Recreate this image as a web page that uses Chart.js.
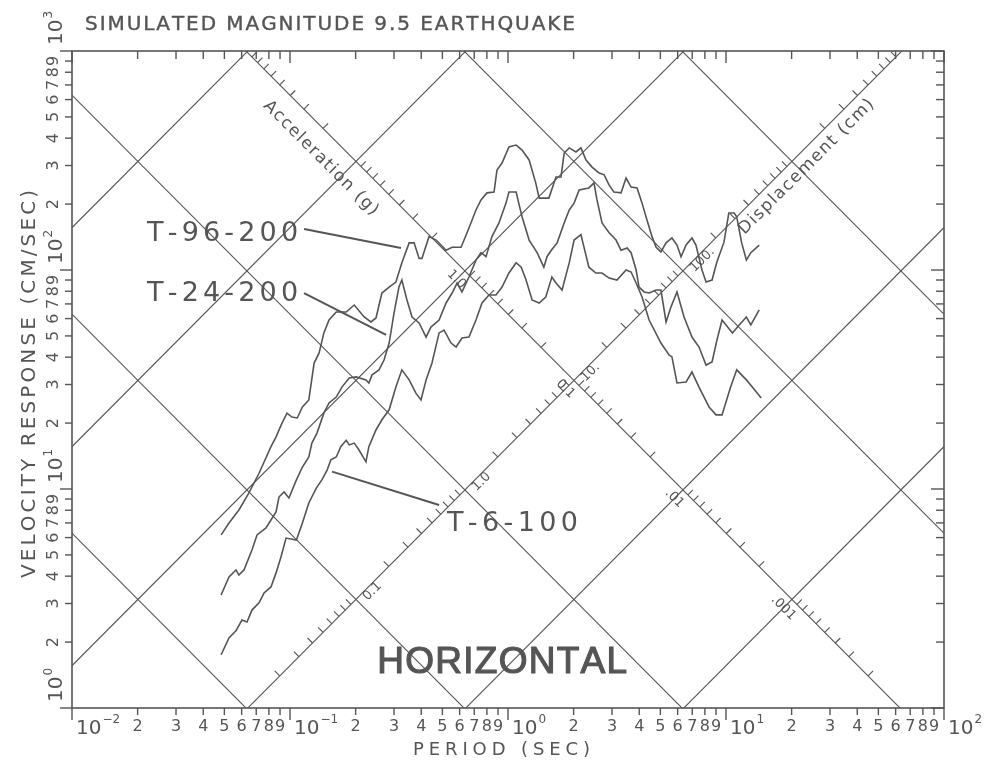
<!DOCTYPE html>
<html>
<head>
<meta charset="utf-8">
<script src="https://cdn.jsdelivr.net/npm/chart.js@4.4.1/dist/chart.umd.min.js"></script>
<style>
    body { margin: 0; background: #fff; }
    #grafico { display: block; }
</style>
</head>
<body>
<canvas id="grafico" width="988" height="762"></canvas>
<script>
// espectros de velocidad (periodo en s, velocidad en cm/s)
var t96Periodo = [0.0483, 0.0525, 0.0583, 0.0648, 0.0721, 0.0818, 0.0863, 0.0919, 0.0969, 0.102, 0.108, 0.114, 0.122, 0.129, 0.136, 0.143, 0.151, 0.163, 0.181, 0.197, 0.219, 0.235, 0.248, 0.264, 0.285, 0.306, 0.326, 0.352, 0.371, 0.391, 0.403, 0.434, 0.468, 0.520, 0.554, 0.609, 0.649, 0.713, 0.752, 0.801, 0.863, 0.890, 0.939, 1.01, 1.09, 1.16, 1.25, 1.34, 1.39, 1.54, 1.66, 1.75, 1.81, 1.91, 2.05, 2.16, 2.28, 2.43, 2.62, 2.76, 2.91, 3.06, 3.30, 3.48, 3.67, 3.91, 4.12, 4.34, 4.58, 4.78, 5.03, 5.31, 5.65, 5.96, 6.22, 6.56, 6.98, 7.28, 7.76, 8.10, 8.63, 9.09, 9.79, 10.3, 10.9, 11.2, 11.8, 12.4, 13.0, 14.2];
var t96Velocidad = [6.17, 6.99, 8.02, 9.59, 11.8, 15.6, 17.3, 20.0, 22.2, 21.3, 21.1, 23.7, 25.5, 37.6, 41.8, 51.6, 59.1, 64.3, 64.3, 69.2, 61.0, 57.9, 60.4, 78.5, 83.6, 88.1, 108, 133, 133, 113, 113, 142, 137, 123, 127, 127, 148, 188, 209, 225, 227, 286, 308, 365, 372, 353, 318, 250, 213, 213, 266, 266, 342, 361, 346, 361, 318, 295, 277, 272, 244, 227, 225, 263, 239, 237, 202, 169, 142, 127, 121, 133, 140, 130, 115, 130, 140, 130, 100, 88.1, 90.0, 109, 134, 182, 182, 175, 133, 111, 120, 130];

var t24Periodo = [0.0483, 0.0525, 0.0565, 0.0583, 0.0615, 0.0669, 0.0706, 0.0776, 0.0818, 0.0863, 0.0890, 0.0939, 0.0989, 0.107, 0.114, 0.122, 0.126, 0.133, 0.143, 0.151, 0.163, 0.173, 0.187, 0.201, 0.223, 0.230, 0.238, 0.256, 0.270, 0.285, 0.300, 0.316, 0.326, 0.344, 0.363, 0.391, 0.421, 0.443, 0.483, 0.520, 0.554, 0.584, 0.615, 0.662, 0.713, 0.752, 0.793, 0.844, 0.909, 0.979, 1.01, 1.09, 1.12, 1.16, 1.25, 1.36, 1.46, 1.51, 1.58, 1.68, 1.81, 1.91, 2.01, 2.12, 2.35, 2.48, 2.56, 2.70, 2.91, 3.13, 3.30, 3.52, 3.67, 3.87, 3.99, 4.21, 4.44, 4.78, 5.03, 5.31, 5.59, 5.96, 6.42, 6.98, 7.52, 8.10, 8.63, 9.09, 9.59, 10.7, 11.5, 12.4, 13.0, 14.2];
var t24Velocidad = [3.28, 3.97, 4.27, 4.05, 4.27, 5.27, 6.17, 6.64, 7.22, 7.85, 9.19, 9.69, 9.10, 11.0, 12.6, 14.0, 16.2, 18.0, 22.2, 24.7, 26.3, 29.2, 32.1, 32.5, 31.5, 30.5, 33.2, 35.0, 38.8, 46.4, 63.6, 83.6, 90.0, 73.0, 61.0, 57.3, 49.4, 54.9, 59.1, 70.7, 78.5, 87.2, 79.4, 92.9, 111, 120, 115, 142, 164, 202, 227, 227, 202, 175, 137, 120, 103, 115, 123, 133, 164, 188, 202, 232, 237, 250, 209, 164, 148, 137, 123, 126, 120, 100, 83.6, 79.4, 78.5, 81.0, 81.0, 57.9, 67.8, 79.4, 61.0, 49.4, 44.5, 36.8, 38.0, 47.9, 59.1, 51.6, 56.1, 61.0, 56.1, 65.7];

var t6Periodo = [0.0483, 0.0525, 0.0565, 0.0602, 0.0635, 0.0669, 0.0721, 0.0760, 0.0818, 0.0863, 0.0909, 0.0959, 0.107, 0.114, 0.122, 0.132, 0.140, 0.148, 0.154, 0.163, 0.171, 0.181, 0.187, 0.197, 0.207, 0.223, 0.230, 0.248, 0.264, 0.285, 0.306, 0.326, 0.352, 0.378, 0.399, 0.421, 0.448, 0.483, 0.509, 0.548, 0.578, 0.615, 0.662, 0.713, 0.760, 0.818, 0.881, 0.939, 1.01, 1.09, 1.15, 1.21, 1.29, 1.39, 1.49, 1.59, 1.66, 1.77, 1.91, 2.01, 2.16, 2.35, 2.53, 2.70, 2.91, 3.16, 3.48, 3.67, 3.87, 4.12, 4.44, 5.03, 5.48, 5.65, 5.96, 6.56, 6.98, 7.52, 8.36, 9.00, 9.59, 10.5, 11.2, 12.4, 13.2, 14.5];
var t6Velocidad = [1.75, 2.09, 2.25, 2.52, 2.47, 2.80, 3.02, 3.35, 3.57, 4.14, 4.89, 5.97, 5.85, 6.99, 8.63, 10.1, 11.0, 12.2, 13.6, 14.0, 15.6, 16.7, 15.9, 16.2, 15.1, 13.3, 15.6, 18.6, 20.7, 23.0, 29.2, 35.0, 31.5, 27.4, 25.5, 31.5, 37.6, 51.6, 53.2, 46.4, 44.5, 48.9, 49.4, 59.1, 70.7, 76.9, 76.9, 83.6, 96.9, 108, 103, 90.0, 73.0, 70.7, 75.3, 92.9, 87.2, 81.0, 108, 137, 145, 103, 96.9, 96.9, 91.9, 90.0, 100, 97.9, 87.2, 75.3, 59.1, 46.4, 40.9, 40.1, 30.5, 30.8, 34.2, 29.2, 23.7, 21.8, 21.8, 29.2, 35.0, 31.5, 29.2, 26.0];

// rejilla tripartita
var acelLineas = [100, 10, 1, 0.1, 0.01, 0.001];   // g
var despLineas = [0.01, 0.1, 1, 10, 100, 1000];    // cm
var acelEtiquetas = ['1.0', '0.1', '.01', '.001'];
var acelValores = [1, 0.1, 0.01, 0.001];
var despEtiquetas = ['0.1', '1.0', '10.', '100.'];
var despValores = [0.1, 1, 10, 100];
var despEje = 10;    // linea de D constante que lleva la escala de aceleracion
var acelEje = 0.1;   // linea de A constante que lleva la escala de desplazamiento

var xDecadas = [-2, -1, 0, 1, 2];
var yDecadas = [0, 1, 2, 3];
var menores = [2, 3, 4, 5, 6, 7, 8, 9];

var G = 981;
var DOS_PI = 2 * Math.PI;
var tinta = '#555';
var fuente = '"DejaVu Sans", sans-serif';

function puntoCruce(A, D) {
    var T = DOS_PI * Math.sqrt(D / (A * G));
    return { x: T, y: Math.sqrt(A * G * D) };
}

function serie(periodo, velocidad) {
    return periodo.map(function (t, i) { return { x: t, y: velocidad[i] }; });
}

function linea(puntos, grosor) {
    return {
        data: puntos,
        showLine: true,
        fill: false,
        borderColor: tinta,
        borderWidth: grosor,
        pointRadius: 0,
        tension: 0
    };
}

function anchoNatural(ctx, s) {
    var w = 0;
    for (var i = 0; i < s.length; i++) w += ctx.measureText(s[i]).width;
    return w;
}

// escribe letra a letra para llegar al ancho pedido
function escribir(ctx, s, x, y, ancho, alin, grueso) {
    var nat = anchoNatural(ctx, s);
    var esp = s.length > 1 ? (ancho - nat) / (s.length - 1) : 0;
    var x0 = x;
    if (alin === 'center') x0 = x - ancho / 2;
    ctx.textAlign = 'left';
    for (var i = 0; i < s.length; i++) {
        ctx.fillText(s[i], x0, y);
        if (grueso) ctx.strokeText(s[i], x0, y);
        x0 += ctx.measureText(s[i]).width + esp;
    }
}

function trazo(ctx, x1, y1, x2, y2) {
    ctx.beginPath();
    ctx.moveTo(x1, y1);
    ctx.lineTo(x2, y2);
    ctx.stroke();
}

var marco = {
    id: 'marco',
    afterDraw: function (chart) {
        var ctx = chart.ctx, a = chart.chartArea;
        var sx = chart.scales.x, sy = chart.scales.y;
        function px(v) { return sx.getPixelForValue(v); }
        function py(v) { return sy.getPixelForValue(v); }
        function dentro(x, y) { return x >= a.left - 1 && x <= a.right + 1 && y >= a.top - 1 && y <= a.bottom + 1; }

        ctx.save();
        ctx.strokeStyle = tinta;
        ctx.fillStyle = tinta;
        ctx.lineWidth = 1.6;
        ctx.strokeRect(a.left, a.top, a.right - a.left, a.bottom - a.top);

        // eje x
        ctx.lineWidth = 1.4;
        xDecadas.forEach(function (e) {
            var base = Math.pow(10, e);
            var x = px(base);
            trazo(ctx, x, a.bottom, x, a.bottom + 12);
            trazo(ctx, x, a.top, x, a.top + 12);
            ctx.font = '20px ' + fuente;
            ctx.textBaseline = 'alphabetic';
            ctx.textAlign = 'left';
            ctx.fillText('10', x + 4, a.bottom + 26);
            var w = ctx.measureText('10').width;
            ctx.font = '12px ' + fuente;
            ctx.fillText(e < 0 ? '\u2212' + (-e) : String(e), x + 5 + w, a.bottom + 15);
            if (e === 2) return;
            menores.forEach(function (k) {
                var xm = px(k * base);
                trazo(ctx, xm, a.bottom, xm, a.bottom + 7);
                trazo(ctx, xm, a.top, xm, a.top + 8);
                ctx.font = '16px ' + fuente;
                ctx.textAlign = 'center';
                ctx.fillText(String(k), xm, a.bottom + 23);
            });
        });

        // eje y
        yDecadas.forEach(function (e) {
            var base = Math.pow(10, e);
            var y = py(base);
            trazo(ctx, a.left - 12, y, a.left, y);
            trazo(ctx, a.right - 13, y, a.right, y);
            ctx.save();
            ctx.translate(a.left - 10, y);
            ctx.rotate(-Math.PI / 2);
            ctx.font = '20px ' + fuente;
            ctx.textBaseline = 'alphabetic';
            ctx.textAlign = 'left';
            ctx.fillText('10', 6, 0);
            var w = ctx.measureText('10').width;
            ctx.font = '12px ' + fuente;
            ctx.fillText(String(e), 7 + w, -10);
            ctx.restore();
            if (e === 3) return;
            menores.forEach(function (k) {
                var ym = py(k * base);
                trazo(ctx, a.left - 7, ym, a.left, ym);
                trazo(ctx, a.right - 8, ym, a.right, ym);
                ctx.save();
                ctx.translate(a.left - 14, ym);
                ctx.rotate(-Math.PI / 2);
                ctx.font = '16px ' + fuente;
                ctx.textAlign = 'center';
                ctx.textBaseline = 'alphabetic';
                ctx.fillText(String(k), 0, 0);
                ctx.restore();
            });
        });

        // marcas de las escalas diagonales
        ctx.lineWidth = 1.1;
        for (var n = -4; n <= 3; n++) {
            menores.forEach(function (k) {
                var v = k * Math.pow(10, n);
                var p = puntoCruce(v, despEje);
                var x = px(p.x), y = py(p.y);
                if (dentro(x, y) && dentro(x + 5, y - 5)) trazo(ctx, x, y, x + 5, y - 5);
                p = puntoCruce(acelEje, v);
                x = px(p.x); y = py(p.y);
                if (dentro(x, y) && dentro(x - 5, y - 5)) trazo(ctx, x, y, x - 5, y - 5);
            });
        }

        // valores sobre las diagonales
        ctx.font = '13px ' + fuente;
        ctx.textBaseline = 'middle';
        acelValores.forEach(function (v, i) {
            var p = puntoCruce(v, despEje);
            ctx.save();
            ctx.translate(px(p.x), py(p.y));
            ctx.rotate(Math.PI / 4);
            ctx.textAlign = 'center';
            ctx.fillText(acelEtiquetas[i], 0, 12);
            ctx.restore();
        });
        despValores.forEach(function (v, i) {
            var p = puntoCruce(acelEje, v);
            ctx.save();
            ctx.translate(px(p.x), py(p.y));
            ctx.rotate(-Math.PI / 4);
            ctx.textAlign = 'left';
            ctx.fillText(despEtiquetas[i], 7, 6);
            ctx.restore();
        });

        // nombres de las escalas diagonales
        ctx.font = '17px ' + fuente;
        var pa = puntoCruce(15, despEje);
        ctx.save();
        ctx.translate(px(pa.x) - 16, py(pa.y) + 16);
        ctx.rotate(Math.PI / 4);
        escribir(ctx, 'Acceleration (g)', 0, 0, 155, 'center');
        ctx.restore();
        var pd = puntoCruce(acelEje, 1100);
        ctx.save();
        ctx.translate(px(pd.x) + 10, py(pd.y) + 10);
        ctx.rotate(-Math.PI / 4);
        escribir(ctx, 'Displacement (cm)', 0, 0, 184, 'center');
        ctx.restore();

        // rotulos de las series
        ctx.textBaseline = 'alphabetic';
        ctx.font = '27px ' + fuente;
        escribir(ctx, 'T-96-200', px(0.0221), py(135.7), 151, 'left');
        escribir(ctx, 'T-24-200', px(0.0221), py(72.2), 151, 'left');
        escribir(ctx, 'T-6-100', px(0.525), py(6.43), 131, 'left');
        ctx.lineWidth = 2;
        trazo(ctx, px(0.116), py(154), px(0.323), py(126));
        trazo(ctx, px(0.116), py(78.5), px(0.276), py(50.5));
        trazo(ctx, px(0.156), py(12.0), px(0.483), py(8.45));

        ctx.font = '37px "Liberation Sans", Arial, sans-serif';
        ctx.lineWidth = 1.2;
        escribir(ctx, 'HORIZONTAL', px(0.251), py(1.445), 250, 'left', true);

        // titulos
        ctx.lineWidth = 0.4;
        ctx.font = '20px ' + fuente;
        escribir(ctx, 'SIMULATED MAGNITUDE 9.5 EARTHQUAKE', 85, 30, 490, 'left', true);
        ctx.font = '18px ' + fuente;
        escribir(ctx, 'PERIOD (SEC)', 413, 755, 177, 'left');
        ctx.save();
        ctx.translate(35, 578);
        ctx.rotate(-Math.PI / 2);
        ctx.font = '20px ' + fuente;
        escribir(ctx, 'VELOCITY RESPONSE (CM/SEC)', 0, 0, 388, 'left');
        ctx.restore();

        ctx.restore();
    }
};

window.onload = function () {
    var datasets = [];
    acelLineas.forEach(function (A) {
        datasets.push(linea([{ x: 1e-3, y: A * G * 1e-3 / DOS_PI }, { x: 1e3, y: A * G * 1e3 / DOS_PI }], 1.1));
    });
    despLineas.forEach(function (D) {
        datasets.push(linea([{ x: 1e-3, y: DOS_PI * D / 1e-3 }, { x: 1e3, y: DOS_PI * D / 1e3 }], 1.1));
    });
    datasets.push(linea(serie(t96Periodo, t96Velocidad), 1.6));
    datasets.push(linea(serie(t24Periodo, t24Velocidad), 1.6));
    datasets.push(linea(serie(t6Periodo, t6Velocidad), 1.6));

    var ctx = document.getElementById('grafico').getContext('2d');
    new Chart(ctx, {
        type: 'scatter',
        data: { datasets: datasets },
        options: {
            responsive: false,
            animation: false,
            devicePixelRatio: 1,
            events: [],
            layout: { padding: { left: 72, right: 44, top: 51, bottom: 54 } },
            plugins: { legend: { display: false }, tooltip: { enabled: false } },
            scales: {
                x: { type: 'logarithmic', min: 0.01, max: 100, display: false },
                y: { type: 'logarithmic', min: 1, max: 1000, display: false }
            }
        },
        plugins: [marco]
    });
};
</script>
</body>
</html>
